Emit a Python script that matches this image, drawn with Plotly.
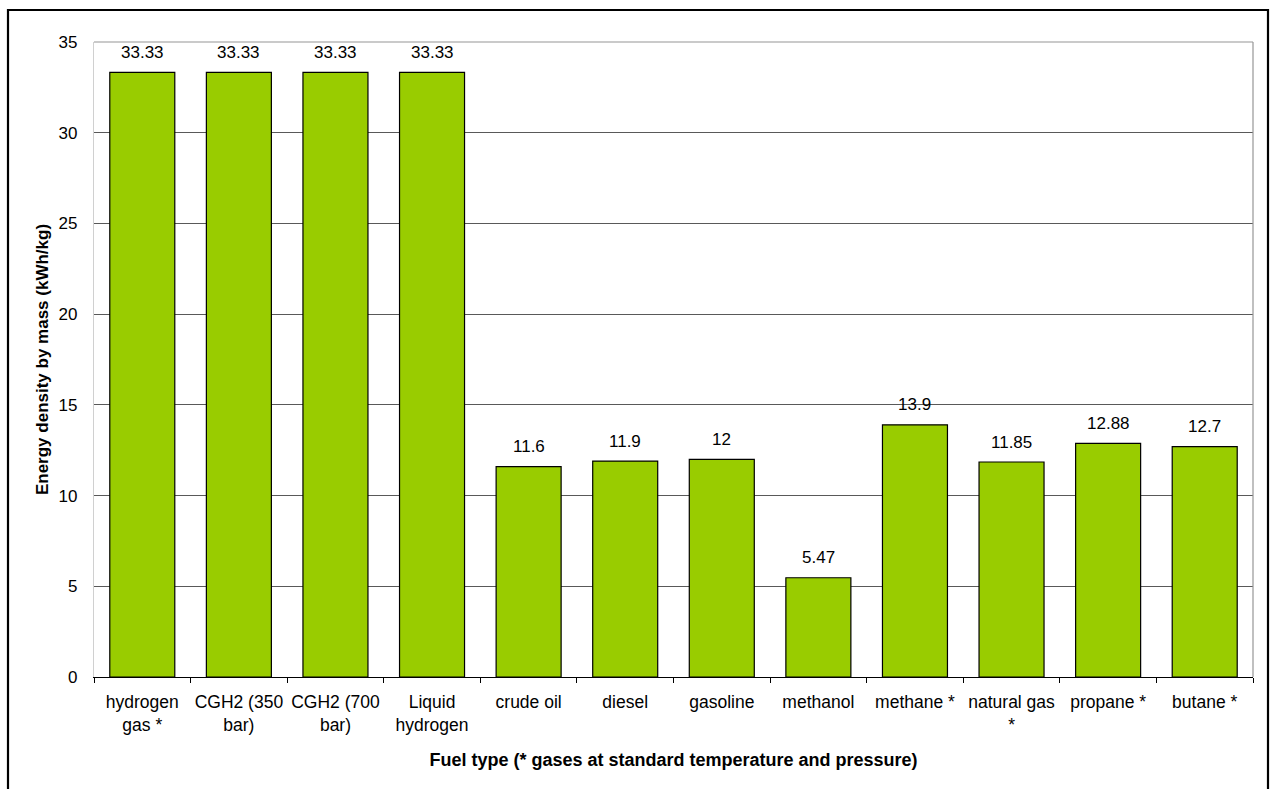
import plotly.graph_objects as go

# Fuel categories, axis labels and energy density values (kWh/kg)
fuels = [
    "hydrogen gas *", "CGH2 (350 bar)", "CGH2 (700 bar)", "Liquid hydrogen",
    "crude oil", "diesel", "gasoline", "methanol", "methane *",
    "natural gas *", "propane *", "butane *",
]
tick_labels = [
    "hydrogen<br>gas *", "CGH2 (350<br>bar)", "CGH2 (700<br>bar)", "Liquid<br>hydrogen",
    "crude oil", "diesel", "gasoline", "methanol", "methane *",
    "natural gas<br>*", "propane *", "butane *",
]
energy_density = [33.33, 33.33, 33.33, 33.33, 11.6, 11.9, 12, 5.47, 13.9, 11.85, 12.88, 12.7]
value_labels = ["33.33", "33.33", "33.33", "33.33", "11.6", "11.9", "12", "5.47",
                "13.9", "11.85", "12.88", "12.7"]

FONT = "Liberation Sans, Arial, sans-serif"
W, H = 1273, 789
ML, MR, MT, MB = 94, 20, 42, 112
PW, PH = W - ML - MR, H - MT - MB


def px_x(p):
    return (p - ML) / PW


def px_y(p):
    return (H - MB - p) / PH


fig = go.Figure()
fig.add_bar(
    x=fuels,
    y=energy_density,
    marker=dict(color="#99CC00", line=dict(color="#000000", width=1.2)),
    hoverinfo="x+y",
)

# value labels above each bar
for f, v, t in zip(fuels, energy_density, value_labels):
    fig.add_annotation(
        x=f, y=v, text=t, showarrow=False, yanchor="middle", yshift=20,
        font=dict(family=FONT, size=17, color="#000000"),
    )

shapes = [
    # plot area top and right edges
    dict(type="line", xref="paper", yref="paper", x0=0, x1=1, y0=1, y1=1,
         line=dict(color="#969696", width=1.2)),
    dict(type="line", xref="paper", yref="paper", x0=1, x1=1, y0=0, y1=1,
         line=dict(color="#969696", width=1.2)),
    # outer chart frame
    dict(type="rect", xref="paper", yref="paper",
         x0=px_x(8), x1=px_x(1268), y0=px_y(800), y1=px_y(10),
         line=dict(color="#000000", width=2.2)),
]

fig.update_layout(
    width=W, height=H,
    margin=dict(l=ML, r=MR, t=MT, b=MB),
    paper_bgcolor="white", plot_bgcolor="white",
    font=dict(family=FONT, size=17, color="#000000"),
    bargap=0.327,
    showlegend=False,
    shapes=shapes,
    xaxis=dict(
        tickvals=fuels, ticktext=tick_labels,
        tickson="boundaries", ticks="outside", ticklen=5, tickcolor="#000000",
        showline=True, linecolor="#000000", linewidth=1.2,
        showgrid=False, tickangle=0,
        tickfont=dict(family=FONT, size=17.5),
        ticklabelstandoff=9,
        title=dict(text="<b>Fuel type (* gases at standard temperature and pressure)</b>",
                   font=dict(family=FONT, size=18), standoff=19),
    ),
    yaxis=dict(
        range=[0, 35], dtick=5, tick0=0,
        showgrid=True, gridcolor="#595959", gridwidth=1,
        showline=True, linecolor="#d0d0d0", linewidth=1.2,
        ticks="", zeroline=False,
        tickfont=dict(family=FONT, size=17),
        ticklabelstandoff=12,
        title=dict(text="<b>Energy density by mass (kWh/kg)</b>",
                   font=dict(family=FONT, size=17), standoff=5),
    ),
)

fig.write_html("out.html")
